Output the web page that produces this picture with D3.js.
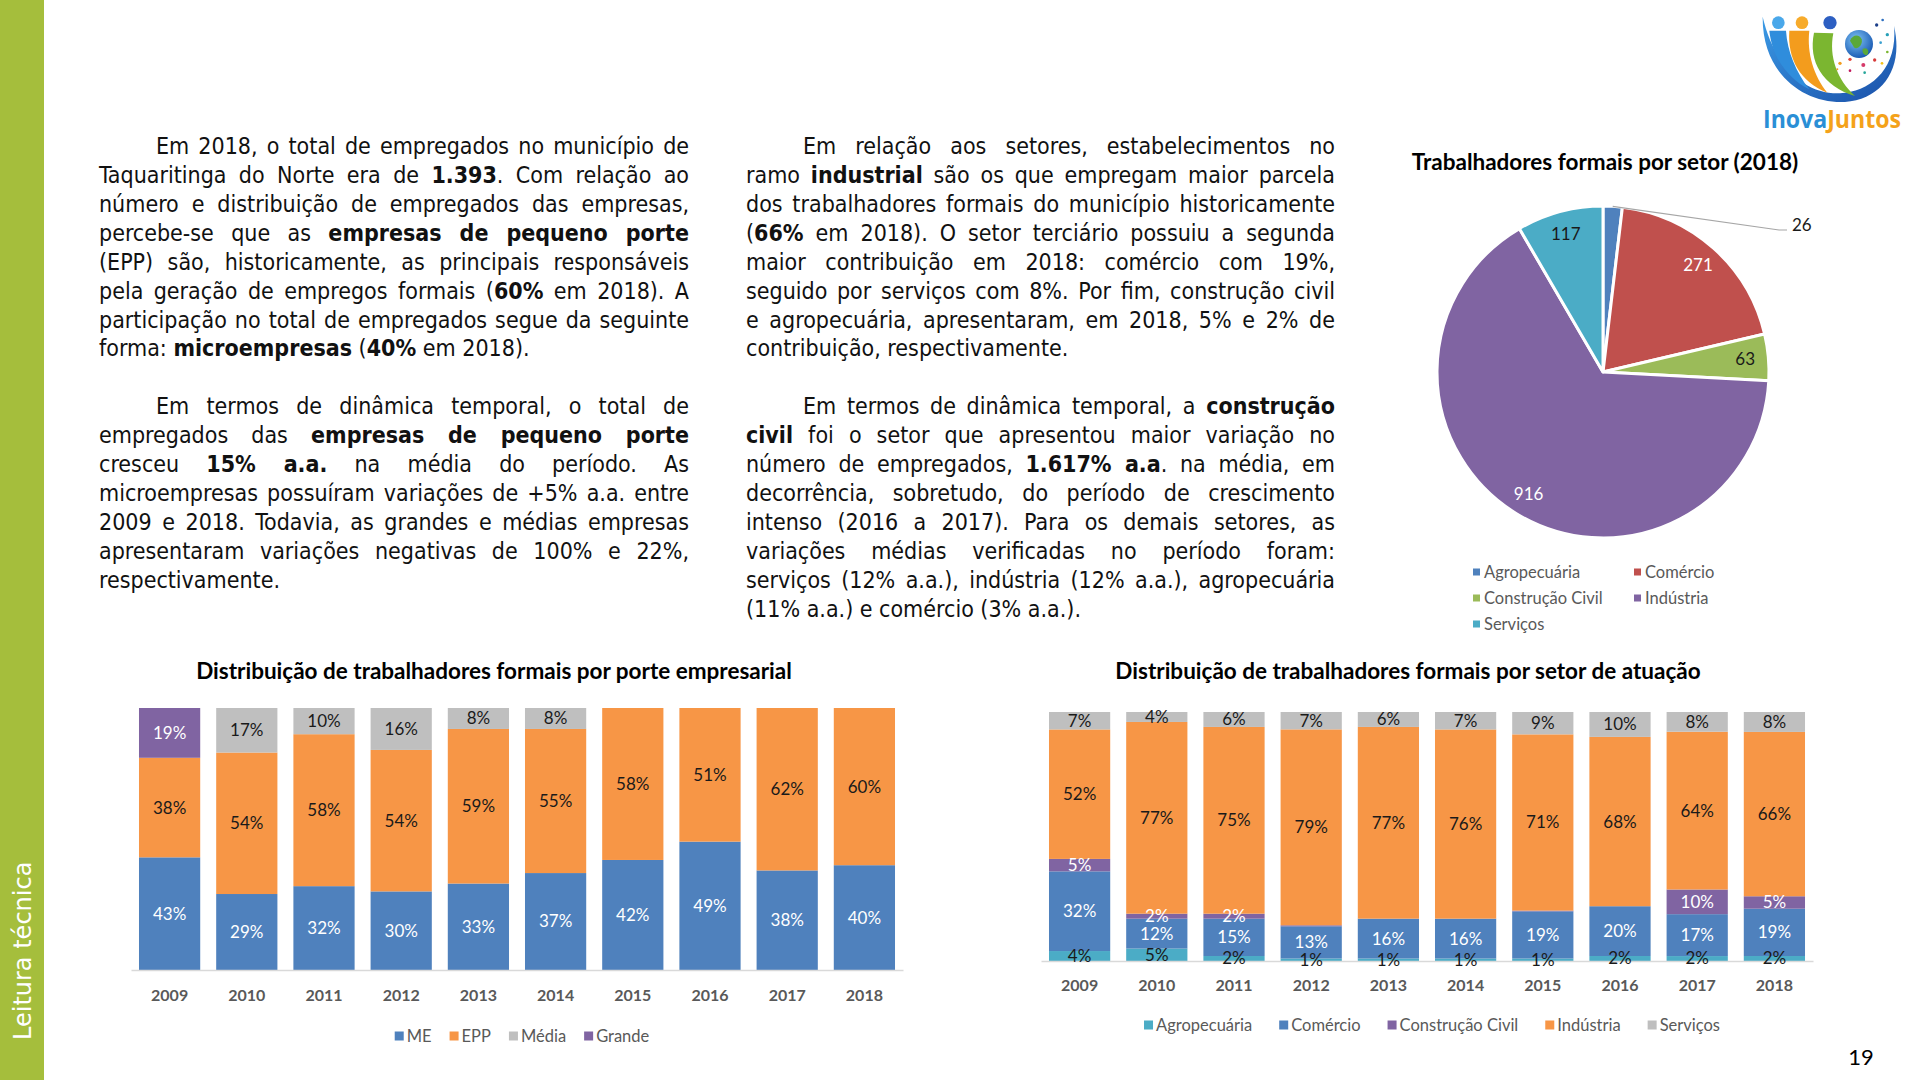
<!DOCTYPE html>
<html>
<head>
<meta charset="utf-8">
<script src="https://cdn.jsdelivr.net/npm/d3@7"></script>
<style>
  body { margin: 0; background: #fff; }
  #page { position: relative; width: 1920px; height: 1080px; overflow: hidden; background: #fff; }
  #page svg { position: absolute; left: 0; top: 0; }
  .col { position: absolute; font-family: "DejaVu Sans Condensed", "DejaVu Sans", sans-serif; font-stretch: condensed; color: #111; }
  .line { white-space: nowrap; height: 28.93px; line-height: 28.93px; }
  .line b { font-weight: bold; }
</style>
</head>
<body>
<div id="page"></div>
<script>
// ---- data ----
var years = ['2009', '2010', '2011', '2012', '2013', '2014', '2015', '2016', '2017', '2018'];

// porte empresarial (%)
var porteKeys = ['ME', 'EPP', 'Média', 'Grande'];
var porteME = [43, 29, 32, 30, 33, 37, 42, 49, 38, 40];
var porteEPP = [38, 54, 58, 54, 59, 55, 58, 51, 62, 60];
var porteMedia = [0, 17, 10, 16, 8, 8, 0, 0, 0, 0];
var porteGrande = [19, 0, 0, 0, 0, 0, 0, 0, 0, 0];

// setor de atuação (%)
var setorKeys = ['Agropecuária', 'Comércio', 'Construção Civil', 'Indústria', 'Serviços'];
var setorAgro = [4, 5, 2, 1, 1, 1, 1, 2, 2, 2];
var setorComercio = [32, 12, 15, 13, 16, 16, 19, 20, 17, 19];
var setorConstrucao = [5, 2, 2, 0.4, 0, 0, 0.3, 0, 10, 5];
var setorIndustria = [52, 77, 75, 79, 77, 76, 71, 68, 64, 66];
var setorServicos = [7, 4, 6, 7, 6, 7, 9, 10, 8, 8];

// pie 2018
var pieLabels = ['Agropecuária', 'Comércio', 'Construção Civil', 'Indústria', 'Serviços'];
var pieValues = [26, 271, 63, 916, 117];

// texts
var col1Lines = [
  'Em 2018, o total de empregados no município de',
  'Taquaritinga do Norte era de <b>1.393</b>. Com relação ao',
  'número e distribuição de empregados das empresas,',
  'percebe-se que as <b>empresas de pequeno porte</b>',
  '(EPP) são, historicamente, as principais responsáveis',
  'pela geração de empregos formais (<b>60%</b> em 2018). A',
  'participação no total de empregados segue da seguinte',
  'forma: <b>microempresas</b> (<b>40%</b> em 2018).',
  null,
  'Em termos de dinâmica temporal, o total de',
  'empregados das <b>empresas de pequeno porte</b>',
  'cresceu <b>15% a.a.</b> na média do período. As',
  'microempresas possuíram variações de +5% a.a. entre',
  '2009 e 2018. Todavia, as grandes e médias empresas',
  'apresentaram variações negativas de 100% e 22%,',
  'respectivamente.'
];
var col2Lines = [
  'Em relação aos setores, estabelecimentos no',
  'ramo <b>industrial</b> são os que empregam maior parcela',
  'dos trabalhadores formais do município historicamente',
  '(<b>66%</b> em 2018). O setor terciário possuiu a segunda',
  'maior contribuição em 2018: comércio com 19%,',
  'seguido por serviços com 8%. Por fim, construção civil',
  'e agropecuária, apresentaram, em 2018, 5% e 2% de',
  'contribuição, respectivamente.',
  null,
  'Em termos de dinâmica temporal, a <b>construção</b>',
  '<b>civil</b> foi o setor que apresentou maior variação no',
  'número de empregados, <b>1.617% a.a</b>. na média, em',
  'decorrência, sobretudo, do período de crescimento',
  'intenso (2016 a 2017). Para os demais setores, as',
  'variações médias verificadas no período foram:',
  'serviços (12% a.a.), indústria (12% a.a.), agropecuária',
  '(11% a.a.) e comércio (3% a.a.).'
];

var page = d3.select('#page');

// ---- paragraphs ----
function textColumn(lines, left, width) {
  var col = page.append('div').attr('class', 'col')
    .style('left', left + 'px').style('top', '132px').style('width', width + 'px')
    .style('font-size', '23px');
  var rows = [];
  lines.forEach(function(t, i) {
    var div = col.append('div').attr('class', 'line');
    if (t === null) { div.html('&nbsp;'); return; }
    var indent = (i === 0 || lines[i - 1] === null);
    var last = (i === lines.length - 1 || lines[i + 1] === null);
    div.style('padding-left', indent ? '57px' : '0px')
      .style('text-align', 'left')
      .html('<span>' + t + '</span>');
    rows.push({div: div, indent: indent, last: last});
  });
  // shrink font if any line is too long for the column
  var k = 1;
  rows.forEach(function(r) {
    var w = r.div.select('span').node().getBoundingClientRect().width;
    var avail = width - (r.indent ? 57 : 0);
    if (w > avail) k = Math.min(k, avail / w);
  });
  if (k < 1) col.style('font-size', (23 * k * 0.99) + 'px');
  rows.forEach(function(r) {
    if (!r.last) r.div.style('text-align', 'justify').style('text-align-last', 'justify');
  });
}
textColumn(col1Lines, 99, 590);
textColumn(col2Lines, 746, 589);

var svg = page.append('svg').attr('width', 1920).attr('height', 1080);

// ---- side band ----
svg.append('rect').attr('x', 0).attr('y', 0).attr('width', 44).attr('height', 1080).attr('fill', '#a5be3c');
svg.append('text')
  .attr('transform', 'translate(31,1040) rotate(-90)')
  .attr('font-family', 'DejaVu Sans').attr('font-size', 24).attr('fill', '#fff')
  .text('Leitura técnica');

svg.append('text').attr('x', 1861).attr('y', 1065).attr('text-anchor', 'middle')
  .attr('font-family', 'Lato').attr('font-size', 22).attr('fill', '#000').text('19');

// ---- logo ----
var logo = svg.append('g').attr('transform', 'translate(1750,0) scale(0.3333)');
var defs = svg.append('defs');
var lg = defs.append('linearGradient').attr('id', 'swoosh').attr('x1', 0).attr('y1', 0).attr('x2', 1).attr('y2', 1);
lg.append('stop').attr('offset', '0%').attr('stop-color', '#3b9be6');
lg.append('stop').attr('offset', '100%').attr('stop-color', '#1a4fa8');
var gl = defs.append('radialGradient').attr('id', 'globe').attr('cx', '40%').attr('cy', '35%').attr('r', '65%');
gl.append('stop').attr('offset', '0%').attr('stop-color', '#7fc4f5');
gl.append('stop').attr('offset', '100%').attr('stop-color', '#1d5db5');

logo.append('path')
  .attr('d', 'M38,50 C36,225 165,312 285,306 C398,298 462,205 432,78 C444,205 362,276 270,280 C160,284 72,195 38,50 Z')
  .attr('fill', 'url(#swoosh)');
logo.append('path').attr('d', 'M58,92 C66,170 112,235 178,268 C138,215 112,155 108,92 Z').attr('fill', '#2f8ddc');
logo.append('path').attr('d', 'M118,92 C112,175 150,245 232,278 C192,228 170,160 178,92 Z').attr('fill', '#f39c1d');
logo.append('path').attr('d', 'M192,98 C174,185 218,258 315,288 C262,240 236,170 250,100 Z').attr('fill', '#7bb630');
logo.append('circle').attr('cx', 85).attr('cy', 68).attr('r', 19).attr('fill', '#4aa8ea');
logo.append('circle').attr('cx', 156).attr('cy', 68).attr('r', 19).attr('fill', '#f7ab2b');
logo.append('circle').attr('cx', 240).attr('cy', 68).attr('r', 20).attr('fill', '#2d5fc2');
logo.append('circle').attr('cx', 327).attr('cy', 132).attr('r', 42).attr('fill', 'url(#globe)');
logo.append('path').attr('d', 'M300,122 C310,100 330,105 335,118 C340,135 320,152 312,142 Z').attr('fill', '#5aa83a');
logo.append('path').attr('d', 'M338,147 C350,140 360,152 352,164 C344,168 336,160 338,147 Z').attr('fill', '#5aa83a');
var dots = [[380, 75, 5, '#1d3f8a'], [398, 60, 4, '#2d6fc0'], [412, 104, 5, '#27a0b8'], [392, 128, 4, '#3aa0d0'],
  [270, 190, 5, '#f39c1d'], [300, 178, 5, '#e2473a'], [340, 195, 6, '#d63a6a'], [374, 180, 5, '#d73b3b'],
  [300, 212, 4, '#c2185b'], [344, 218, 4, '#26a69a'], [396, 190, 4, '#f4c21a'], [412, 156, 4, '#7bb630'], [262, 208, 3, '#f39c1d']];
logo.selectAll('circle.dot').data(dots).enter().append('circle').attr('class', 'dot')
  .attr('cx', d => d[0]).attr('cy', d => d[1]).attr('r', d => d[2]).attr('fill', d => d[3]);
var lt = svg.append('text').attr('x', 1763).attr('y', 128)
  .attr('font-family', 'Open Sans').attr('font-weight', 'bold').attr('font-size', 25)
  .attr('textLength', 138).attr('lengthAdjust', 'spacingAndGlyphs');
lt.append('tspan').attr('fill', '#2a8fd6').text('Inova');
lt.append('tspan').attr('fill', '#f4a21a').text('Juntos');

// ---- helpers ----
var chartFont = 'Lato';

function legend(cx, cy, keys, colors, gap) {
  var g = svg.append('g');
  var x = 0;
  keys.forEach(function(k, i) {
    g.append('rect').attr('x', x).attr('y', cy - 4.5).attr('width', 9).attr('height', 9).attr('fill', colors[i]);
    var t = g.append('text').attr('x', x + 12).attr('y', cy).attr('dy', '0.35em')
      .attr('font-family', chartFont).attr('font-size', 16.5).attr('fill', '#595959').text(k);
    x += 12 + t.node().getComputedTextLength() + gap;
  });
  x -= gap;
  g.attr('transform', 'translate(' + (cx - x / 2) + ',0)');
}

function stackedChart(opt) {
  var table = years.map(function(y, i) {
    var row = {year: y};
    opt.keys.forEach(function(k, j) { row[k] = opt.series[j][i]; });
    return row;
  });
  var stacked = d3.stack().keys(opt.keys).offset(d3.stackOffsetExpand)(table);

  var x = d3.scaleBand().domain(years).range([opt.x0, opt.x1]).paddingInner(0.207).paddingOuter(0.1035);
  var y = d3.scaleLinear().domain([0, 1]).range([opt.y0, opt.y1]);

  svg.append('text').attr('x', opt.titleX).attr('y', opt.titleY).attr('dy', '0.35em')
    .attr('text-anchor', 'middle').attr('font-family', chartFont).attr('font-weight', 'bold')
    .attr('font-size', 22.5).attr('fill', '#000').text(opt.title);

  var layers = svg.append('g').selectAll('g').data(stacked).enter().append('g')
    .attr('fill', (d, i) => opt.colors[i]);
  layers.selectAll('rect').data(d => d).enter().append('rect')
    .attr('x', d => x(d.data.year))
    .attr('width', x.bandwidth())
    .attr('y', d => y(d[1]))
    .attr('height', d => y(d[0]) - y(d[1]));

  var axis = svg.append('g').attr('transform', 'translate(0,' + opt.y0 + ')')
    .call(d3.axisBottom(x).tickSize(0).tickPadding(opt.tickPad));
  axis.select('.domain').attr('stroke', '#d9d9d9').attr('stroke-width', 1.5);
  axis.selectAll('text').attr('font-family', chartFont).attr('font-weight', 'bold')
    .attr('font-size', 16).attr('fill', '#595959');

  var lab = svg.append('g');
  stacked.forEach(function(layer, i) {
    lab.selectAll(null).data(layer.filter(d => d.data[layer.key] >= 0.5)).enter().append('text')
      .attr('x', d => x(d.data.year) + x.bandwidth() / 2)
      .attr('y', d => (y(d[0]) + y(d[1])) / 2)
      .attr('dy', '0.35em').attr('text-anchor', 'middle')
      .attr('font-family', chartFont).attr('font-size', 17)
      .attr('fill', opt.labelColors[i])
      .text(d => d.data[layer.key] + '%');
  });

  legend(opt.legendX, opt.legendY, opt.keys, opt.colors, opt.legendGap);
}

// ---- chart 1: porte empresarial ----
stackedChart({
  title: 'Distribuição de trabalhadores formais por porte empresarial',
  titleX: 494, titleY: 671,
  keys: porteKeys,
  series: [porteME, porteEPP, porteMedia, porteGrande],
  colors: ['#4F81BD', '#F79646', '#BFBFBF', '#8064A2'],
  labelColors: ['#fff', '#1a1a1a', '#1a1a1a', '#fff'],
  x0: 131, x1: 903, y0: 970, y1: 708, tickPad: 20,
  legendX: 522, legendY: 1036, legendGap: 18
});

// ---- chart 2: setor de atuação ----
stackedChart({
  title: 'Distribuição de trabalhadores formais por setor de atuação',
  titleX: 1408, titleY: 671,
  keys: setorKeys,
  series: [setorAgro, setorComercio, setorConstrucao, setorIndustria, setorServicos],
  colors: ['#4BACC6', '#4F81BD', '#8064A2', '#F79646', '#BFBFBF'],
  labelColors: ['#1a1a1a', '#fff', '#fff', '#1a1a1a', '#1a1a1a'],
  x0: 1041, x1: 1813, y0: 961, y1: 712, tickPad: 19,
  legendX: 1432, legendY: 1025, legendGap: 27
});

// ---- pie chart ----
var pieColors = ['#4F81BD', '#C0504D', '#9BBB59', '#8064A2', '#4BACC6'];
var pieCx = 1603, pieCy = 372, pieR = 166;

svg.append('text').attr('x', 1605).attr('y', 162).attr('dy', '0.35em').attr('text-anchor', 'middle')
  .attr('font-family', chartFont).attr('font-weight', 'bold').attr('font-size', 22.5).attr('fill', '#000')
  .text('Trabalhadores formais por setor (2018)');

var arcs = d3.pie().sort(null)(pieValues);
var arc = d3.arc().innerRadius(0).outerRadius(pieR);
var labelArc = d3.arc().innerRadius(pieR * 0.86).outerRadius(pieR * 0.86);
var pg = svg.append('g').attr('transform', 'translate(' + pieCx + ',' + pieCy + ')');

pg.selectAll('path').data(arcs).enter().append('path')
  .attr('d', arc).attr('fill', (d, i) => pieColors[i])
  .attr('stroke', '#fff').attr('stroke-width', 3).attr('stroke-linejoin', 'round');

var pieLabelColors = ['#1a1a1a', '#fff', '#1a1a1a', '#fff', '#1a1a1a'];
arcs.forEach(function(d, i) {
  if (i === 0) {
    // small slice: label outside with a leader line
    var a = (d.startAngle + d.endAngle) / 2;
    var px = pieR * Math.sin(a), py = -pieR * Math.cos(a);
    pg.append('polyline')
      .attr('points', [[px, py], [176, -142], [184, -142]].map(p => p.join(',')).join(' '))
      .attr('fill', 'none').attr('stroke', '#a6a6a6').attr('stroke-width', 1.2);
    pg.append('text').attr('x', 189).attr('y', -147).attr('dy', '0.35em')
      .attr('font-family', chartFont).attr('font-size', 17).attr('fill', pieLabelColors[i])
      .text(d.data);
  } else {
    var c = labelArc.centroid(d);
    pg.append('text').attr('x', c[0]).attr('y', c[1]).attr('dy', '0.35em').attr('text-anchor', 'middle')
      .attr('font-family', chartFont).attr('font-size', 17).attr('fill', pieLabelColors[i])
      .text(d.data);
  }
});

// pie legend, two columns
var pl = svg.append('g');
pieLabels.forEach(function(k, i) {
  var lx = (i % 2 === 0) ? 1473 : 1634;
  var ly = 572 + Math.floor(i / 2) * 26;
  pl.append('rect').attr('x', lx).attr('y', ly - 3.5).attr('width', 7).attr('height', 7).attr('fill', pieColors[i]);
  pl.append('text').attr('x', lx + 11).attr('y', ly).attr('dy', '0.35em')
    .attr('font-family', chartFont).attr('font-size', 16.5).attr('fill', '#595959').text(k);
});
</script>
</body>
</html>
